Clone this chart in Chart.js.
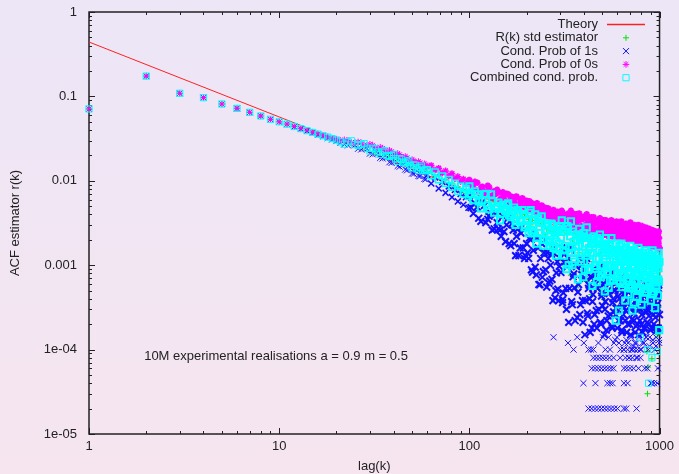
<!DOCTYPE html>
<html>
<head>
<meta charset="utf-8">
<title>ACF estimator</title>
<script src="https://cdn.jsdelivr.net/npm/chart.js@4.4.1/dist/chart.umd.min.js"></script>
<style>
   html, body { margin: 0; padding: 0; }
   body {
      width: 679px;
      height: 474px;
      overflow: hidden;
      background: linear-gradient(to bottom, #ece6f7, #f6e5ef);
   }
</style>
</head>
<body>
<canvas id="acfChart" width="679" height="474"></canvas>
<script>
// ============  data  ============ //

const lags = [
   1, 2, 3, 4, 5, 6, 7, 8, 9, 10, 11, 12, 13, 14, 15, 16, 17, 18, 19, 20,
   22, 24, 26, 28, 30, 32, 34, 36, 38, 40, 42, 44, 46, 48, 50, 52, 54, 56, 58, 60,
   63, 66, 69, 72, 75, 78, 81, 84, 87, 90, 93, 96, 99,
   100, 105, 110, 115, 120, 125, 130, 135, 140, 145, 150, 155, 160, 165, 170, 175, 180, 185, 190, 195,
   200, 205, 210, 215, 220, 225, 230, 235, 240, 245, 250, 255, 260, 265, 270, 275, 280, 285, 290, 295, 300,
   306, 312, 318, 324, 330, 336, 342, 348, 354, 360, 366, 372,
   378, 384, 390, 396, 402, 408, 414, 420, 426, 432, 438, 444,
   450, 456, 462, 468, 474, 480, 486, 492, 498, 504, 510, 516,
   522, 528, 534, 540, 546, 552, 558, 564, 570, 576, 582, 588,
   594, 600, 606, 612, 618, 624, 630, 636, 642, 648, 654, 660,
   666, 672, 678, 684, 690, 696, 702, 708, 714, 720, 726, 732,
   738, 744, 750, 756, 762, 768, 774, 780, 786, 792, 798, 804,
   810, 816, 822, 828, 834, 840, 846, 852, 858, 864, 870, 876,
   882, 888, 894, 900, 906, 912, 918, 924, 930, 936, 942, 948,
   954, 960, 966, 972, 978, 984, 990, 996
];

// the in-between lags (second pass of the estimators)
const lagsB = [
   21, 23, 25, 27, 29, 31, 33, 35, 37, 39, 41, 43, 45, 47, 49, 51, 53, 55, 57, 59,
   102, 107, 112, 117, 122, 127, 132, 137, 142, 147, 152, 157, 162, 167, 172, 177, 182, 187, 192, 197,
   202, 207, 212, 217, 222, 227, 232, 237, 242, 247, 252, 257, 262, 267, 272, 277, 282, 287, 292, 297,
   303, 309, 315, 321, 327, 333, 339, 345, 351, 357, 363, 369,
   375, 381, 387, 393, 399, 405, 411, 417, 423, 429, 435, 441,
   447, 453, 459, 465, 471, 477, 483, 489, 495, 501, 507, 513,
   519, 525, 531, 537, 543, 549, 555, 561, 567, 573, 579, 585,
   591, 597, 603, 609, 615, 621, 627, 633, 639, 645, 651, 657,
   663, 669, 675, 681, 687, 693, 699, 705, 711, 717, 723, 729,
   735, 741, 747, 753, 759, 765, 771, 777, 783, 789, 795, 801,
   807, 813, 819, 825, 831, 837, 843, 849, 855, 861, 867, 873,
   879, 885, 891, 897, 903, 909, 915, 921, 927, 933, 939, 945,
   951, 957, 963, 969, 975, 981, 987, 993, 999
];

// R(k) std estimator
const stdEst = [
   0.071, 0.174, 0.109, 0.0966, 0.0813, 0.0722, 0.0648, 0.0586, 0.0535, 0.050,
   0.0469, 0.0440, 0.0415, 0.0393, 0.0374, 0.0357, 0.0342, 0.0329, 0.0316, 0.0304,
   0.0295, 0.0276, 0.0275, 0.0251, 0.0250, 0.0226, 0.0224, 0.0204, 0.0204, 0.0185,
   0.0187, 0.0170, 0.0170, 0.0155, 0.0157, 0.0144, 0.0147, 0.0135, 0.0138, 0.0127,
   0.0128, 0.0112, 0.0115, 0.0101, 0.0104, 0.0091, 0.0094, 0.0082, 0.0085, 0.0075, 0.0079, 0.0071, 0.0074,
   0.0061, 0.0070, 0.0050, 0.0064, 0.0057, 0.0040, 0.0058, 0.0056, 0.0040, 0.0050, 0.0043, 0.0050,
   0.0038, 0.0045, 0.0032, 0.0043, 0.0037, 0.0026, 0.0040, 0.0038,
   0.0027, 0.0035, 0.0030, 0.0034, 0.0020, 0.0032, 0.0023, 0.0031, 0.0015, 0.0031, 0.0023, 0.0027,
   0.0014, 0.0026, 0.0017, 0.0025, 0.0014, 0.0024, 0.0017, 0.0023, 0.0012,
   0.0017, 0.0026, 0.0010, 0.0024, 0.0012, 0.0026, 0.00076, 0.0020, 0.0016, 0.0024, 0.00054, 0.0021,
   0.0014, 0.0022, 0.00085, 0.0019, 0.0010, 0.0021, 0.00064, 0.0017, 0.0014, 0.0020, 0.00045, 0.0017,
   0.0011, 0.0019, 0.0007, 0.0017, 0.00091, 0.0018, 0.00052, 0.0014, 0.0012, 0.0018, 0.00039, 0.0015,
   0.0010, 0.0018, 0.0006, 0.0014, 0.00078, 0.0016, 0.00048, 0.0013, 0.0010, 0.0015, 0.00033, 0.0013,
   0.00088, 0.0015, 0.00055, 0.0013, 0.00072, 0.0015, 0.0004, 0.0011, 0.0009, 0.0014, 0.0003, 0.0012,
   0.0008, 0.0013, 0.0005, 0.0012, 0.00065, 0.0013, 0.00039, 0.0010, 0.00087, 0.0013, 0.00029, 0.0011,
   0.00076, 0.0012, 0.00047, 0.0011, 0.0006, 0.0012, 0.00037, 0.00096, 0.00082, 0.0012, 0.00027, 0.0010,
   0.00072, 0.0012, 0.00045, 0.0011, 0.00057, 0.0012, 0.00035, 0.00091, 0.000095, 0.00003, 0.000062, 0.00017,
   0.00068, 0.0011, 0.00043, 0.0010, 0.00055, 0.000078, 0.00033, 0.00087, 0.00075, 0.0011, 0.00025, 0.00093,
   0.00065, 0.0010, 0.0004, 0.00096, 0.00015, 0.0011, 0.00032, 0.00084
];

// Cond. Prob of 1s
const cond1 = [
   0.071, 0.174, 0.109, 0.0966, 0.0813, 0.0722, 0.0648, 0.0586, 0.0535, 0.050,
   0.0469, 0.0437, 0.0411, 0.0389, 0.0369, 0.0351, 0.0336, 0.0322, 0.0309, 0.0296,
   0.0270, 0.0283, 0.0240, 0.0253, 0.0210, 0.0226, 0.0187, 0.0200, 0.0166, 0.0181,
   0.0150, 0.0165, 0.0136, 0.0150, 0.0122, 0.0138, 0.0114, 0.0128, 0.0105, 0.0117,
   0.0093, 0.0110, 0.0081, 0.0097, 0.0072, 0.0086, 0.0064, 0.0078, 0.0057, 0.0070, 0.0052, 0.0064, 0.0048,
   0.0066, 0.0041, 0.0049, 0.0033, 0.0051, 0.0035, 0.0041, 0.0027, 0.0032, 0.0026, 0.0038, 0.0019,
   0.0036, 0.0017, 0.0026, 0.0013, 0.0027, 0.0016, 0.0029, 0.0012,
   0.0018, 0.0012, 0.0020, 0.00083, 0.0024, 0.00077, 0.0016, 0.00059, 0.0018, 0.00084, 0.0020, 0.00055,
   0.0012, 0.00065, 0.00135, 0.00038, 0.0016, 0.0005, 0.0011, 0.00038, 0.0012,
   0.0016, 0.00047, 0.0011, 0.0003, 0.0012, 0.00053, 0.0016, 0.00034, 0.00079, 0.00022, 0.00096, 0.00048,
   0.0012, 0.00034, 0.00077, 0.00021, 0.00088, 0.00038, 0.0012, 0.00025, 0.00058, 0.00016, 0.00071, 0.00037,
   0.0009, 0.00026, 0.0006, 0.00018, 0.0007, 0.0003, 0.00096, 0.0002, 0.00047, 0.00014, 0.00059, 0.0003,
   0.00074, 0.00022, 0.0005, 0.00014, 0.0006, 0.00026, 0.00082, 0.00018, 0.0004, 0.00012, 0.0005, 0.00026,
   0.00062, 0.00018, 0.00043, 0.00012, 0.00051, 0.00022, 0.00072, 0.00016, 0.00035, 0.0001, 0.00045, 0.00022,
   0.00058, 0.00016, 0.00039, 0.00012, 0.00048, 0.0002, 0.00067, 0.00014, 0.00032, 0.0001, 0.00042, 0.00022,
   0.00054, 0.00016, 0.00038, 0.00012, 0.00044, 0.0002, 0.00062, 0.00014, 0.00031, 0.0001, 0.0004, 0.0002,
   0.00052, 0.00016, 0.00035, 0.00012, 0.00043, 0.00018, 0.0006, 0.00014, 0.0003, 0.00006, 0.00039, 0.0002,
   0.00048, 0.00014, 0.00034, 0.00004, 0.00041, 0.00018, 0.00058, 0.00012, 0.00029, 0.00004, 0.00037, 0.00018,
   0.00048, 0.00014, 0.00034, 0.00004, 0.00041, 0.00018, 0.00058, 0.00012
];

const cond1B = [
   0.0281, 0.0263, 0.0265, 0.0235, 0.0240, 0.0206, 0.0213, 0.0184, 0.0192, 0.0163,
   0.0173, 0.0147, 0.0157, 0.0133, 0.0141, 0.0121, 0.0131, 0.0113, 0.0122, 0.0104,
   0.0048, 0.0054, 0.0036, 0.0056, 0.0032, 0.0038, 0.0026, 0.0040, 0.0027, 0.0022,
   0.0025, 0.0030, 0.0018, 0.0031, 0.0018, 0.0022, 0.0013, 0.0024, 0.0016, 0.0013,
   0.0014, 0.0021, 0.00088, 0.0015, 0.00095, 0.0021, 0.00059, 0.0012, 0.00072, 0.0014,
   0.00088, 0.0014, 0.00061, 0.0010, 0.00068, 0.0014, 0.00041, 0.00081, 0.00052, 0.00097,
   0.00082, 0.00036, 0.0014, 0.00053, 0.00096, 0.00021, 0.0015, 0.00037, 0.00073, 0.00054, 0.00099, 0.00024,
   0.00059, 0.00026, 0.00099, 0.00038, 0.00068, 0.00015, 0.0011, 0.00027, 0.00053, 0.0004, 0.00074, 0.00018,
   0.00045, 0.0002, 0.00077, 0.00029, 0.00053, 0.00012, 0.00088, 0.00021, 0.00043, 0.00033, 0.00061, 0.00015,
   0.00037, 0.00017, 0.00065, 0.00025, 0.00046, 0.0001, 0.00075, 0.00019, 0.00036, 0.00028, 0.00051, 0.00013,
   0.00031, 0.00014, 0.00056, 0.00022, 0.0004, 0.00008, 0.00066, 0.00017, 0.00033, 0.00026, 0.00046, 0.00012,
   0.00029, 0.00013, 0.00052, 0.0002, 0.00036, 0.00008, 0.00062, 0.00015, 0.00031, 0.00023, 0.00043, 0.00011,
   0.00027, 0.00012, 0.00049, 0.00019, 0.00035, 0.00008, 0.00059, 0.00015, 0.0003, 0.00022, 0.00042, 0.0001,
   0.00026, 0.00012, 0.00045, 0.00018, 0.00033, 0.00006, 0.00055, 0.00014, 0.00028, 0.00021, 0.0004, 0.0001,
   0.00025, 0.00011, 0.00043, 0.00017, 0.00031, 0.00004, 0.00053, 0.00013, 0.00026, 0.0002, 0.00038, 0.0001,
   0.00024, 0.00011, 0.00043, 0.00017, 0.00031, 0.00006, 0.00053, 0.00013, 0.00026
];

// Cond. Prob of 1s: the sparse low counts at large lags
const cond1TailLags = [
   277, 309, 330, 353, 369, 400,
   423, 440, 458, 476, 495, 515, 535, 556, 578, 601, 650, 668, 757,
   398, 460, 532, 550, 566, 650, 679,
   440, 458, 476, 495, 515, 535, 555, 573, 650, 672, 700, 730, 775,
   449, 466, 484, 503, 523, 545, 573, 662, 690, 720, 755, 794,
   423, 436, 449, 519, 623, 650, 680, 710, 740, 766
];
const cond1TailVals = [
   1.4e-4, 3.9e-4, 1.2e-4, 1e-4, 1.4e-4, 1.2e-4,
   2e-5, 2e-5, 2e-5, 2e-5, 2e-5, 2e-5, 2e-5, 2e-5, 2e-5, 2e-5, 2e-5, 2e-5, 2e-5,
   4e-5, 4e-5, 4e-5, 4e-5, 4e-5, 4e-5, 4e-5,
   6e-5, 6e-5, 6e-5, 6e-5, 6e-5, 6e-5, 6e-5, 6e-5, 6e-5, 6e-5, 6e-5, 6e-5, 6e-5,
   8e-5, 8e-5, 8e-5, 8e-5, 8e-5, 8e-5, 8e-5, 8e-5, 8e-5, 8e-5, 8e-5, 8e-5,
   1e-4, 1e-4, 1e-4, 1e-4, 1e-4, 1e-4, 1e-4, 1e-4, 1e-4, 1e-4
];

// Cond. Prob of 0s
const cond0 = [
   0.071, 0.174, 0.109, 0.0966, 0.0813, 0.0722, 0.0648, 0.0586, 0.0535, 0.050,
   0.047, 0.0442, 0.0418, 0.0396, 0.0377, 0.0360, 0.0345, 0.0332, 0.0320, 0.0311,
   0.0306, 0.0284, 0.0289, 0.0266, 0.0271, 0.0248, 0.0250, 0.0228, 0.0230, 0.0207,
   0.0211, 0.0190, 0.0194, 0.0176, 0.0178, 0.0163, 0.0169, 0.0154, 0.0159, 0.0146,
   0.0152, 0.0134, 0.0141, 0.0124, 0.0131, 0.0114, 0.0122, 0.0106, 0.0112, 0.0098, 0.0105, 0.0092, 0.0099,
   0.0102, 0.0083, 0.0095, 0.0082, 0.0072, 0.0087, 0.0066, 0.0075, 0.0078, 0.0060, 0.0073, 0.0057,
   0.0069, 0.0065, 0.0054, 0.0064, 0.0051, 0.0060, 0.0062, 0.0049,
   0.0058, 0.0046, 0.0055, 0.0053, 0.0043, 0.0053, 0.0041, 0.0050, 0.0051, 0.0039, 0.0048, 0.0038,
   0.0047, 0.0044, 0.0035, 0.0044, 0.0034, 0.0042, 0.0043, 0.0033, 0.0042,
   0.0044, 0.0031, 0.0039, 0.0029, 0.0040, 0.0034, 0.0044, 0.0028, 0.0035, 0.0032, 0.0040, 0.0028,
   0.0041, 0.0028, 0.0035, 0.0026, 0.0037, 0.0030, 0.0040, 0.0025, 0.0031, 0.0028, 0.0037, 0.0025,
   0.0037, 0.0026, 0.0032, 0.0023, 0.0033, 0.0028, 0.0036, 0.0023, 0.0029, 0.0026, 0.0034, 0.0023,
   0.0034, 0.0024, 0.0029, 0.0022, 0.0032, 0.0027, 0.0034, 0.0022, 0.0027, 0.0024, 0.0031, 0.0022,
   0.0033, 0.0023, 0.0028, 0.0021, 0.0030, 0.0025, 0.0033, 0.0021, 0.0026, 0.0023, 0.0030, 0.0021,
   0.0031, 0.0021, 0.0026, 0.0020, 0.0029, 0.0024, 0.0032, 0.0020, 0.0025, 0.0022, 0.0029, 0.0020,
   0.0030, 0.0020, 0.0025, 0.0019, 0.0028, 0.0023, 0.0030, 0.0018, 0.0023, 0.0021, 0.0028, 0.0019,
   0.0029, 0.0020, 0.0024, 0.0018, 0.0025, 0.0021, 0.0028, 0.0018, 0.0022, 0.0020, 0.0026, 0.0018,
   0.0027, 0.0018, 0.0022, 0.0016, 0.0024, 0.0020, 0.0026, 0.0017, 0.0021, 0.0019, 0.0025, 0.0017,
   0.0025, 0.0017, 0.0021, 0.0016, 0.0023, 0.0019, 0.0025, 0.0016
];

const cond0B = [
   0.0300, 0.0301, 0.0279, 0.0282, 0.0262, 0.0264, 0.0243, 0.0243, 0.0223, 0.0222,
   0.0204, 0.0204, 0.0188, 0.0188, 0.0172, 0.0173, 0.0161, 0.0164, 0.0152, 0.0155,
   0.0092, 0.0097, 0.0076, 0.0085, 0.0074, 0.0084, 0.0063, 0.0070, 0.0073, 0.0062,
   0.0065, 0.0070, 0.0056, 0.0064, 0.0056, 0.0065, 0.0050, 0.0056, 0.0059, 0.0050,
   0.0053, 0.0057, 0.0046, 0.0053, 0.0047, 0.0054, 0.0041, 0.0046, 0.0049, 0.0040,
   0.0043, 0.0047, 0.0038, 0.0043, 0.0038, 0.0045, 0.0034, 0.0039, 0.0041, 0.0035,
   0.0037, 0.0042, 0.0033, 0.0039, 0.0030, 0.0041, 0.0032, 0.0037, 0.0028, 0.0040, 0.0031, 0.0037,
   0.0034, 0.0038, 0.0029, 0.0036, 0.0027, 0.0038, 0.0029, 0.0034, 0.0025, 0.0036, 0.0028, 0.0033,
   0.0030, 0.0034, 0.0026, 0.0032, 0.0024, 0.0034, 0.0027, 0.0030, 0.0023, 0.0033, 0.0026, 0.0031,
   0.0028, 0.0032, 0.0025, 0.0030, 0.0023, 0.0033, 0.0026, 0.0029, 0.0022, 0.0031, 0.0024, 0.0030,
   0.0027, 0.0030, 0.0024, 0.0029, 0.0022, 0.0032, 0.0024, 0.0027, 0.0021, 0.0030, 0.0023, 0.0029,
   0.0026, 0.0029, 0.0022, 0.0027, 0.0021, 0.0030, 0.0023, 0.0026, 0.0020, 0.0029, 0.0022, 0.0026,
   0.0024, 0.0028, 0.0021, 0.0026, 0.0020, 0.0028, 0.0022, 0.0025, 0.0018, 0.0027, 0.0021, 0.0025,
   0.0023, 0.0026, 0.0020, 0.0025, 0.0019, 0.0027, 0.0020, 0.0023, 0.0018, 0.0026, 0.0020, 0.0024,
   0.0022, 0.0025, 0.0019, 0.0023, 0.0017, 0.0026, 0.0019, 0.0022, 0.0017, 0.0025, 0.0019, 0.0023,
   0.0020, 0.0023, 0.0018, 0.0022, 0.0016, 0.0024, 0.0018, 0.0021, 0.0016
];

// Combined cond. prob.
const combined = [
   0.071, 0.174, 0.109, 0.0966, 0.0813, 0.0722, 0.0648, 0.0586, 0.0535, 0.050,
   0.0469, 0.0440, 0.0415, 0.0393, 0.0374, 0.0357, 0.0342, 0.0329, 0.0316, 0.0304,
   0.0272, 0.0298, 0.0262, 0.0276, 0.0226, 0.0239, 0.0205, 0.0227, 0.0194, 0.0206,
   0.0170, 0.0180, 0.0162, 0.0173, 0.0142, 0.0153, 0.0134, 0.0150, 0.0131, 0.0135,
   0.0115, 0.0127, 0.0103, 0.0114, 0.0093, 0.0103, 0.0084, 0.0093, 0.0075, 0.0086, 0.0070, 0.0081, 0.0066,
   0.0086, 0.0059, 0.0069, 0.0047, 0.0069, 0.0051, 0.0069, 0.0042, 0.0050, 0.0034, 0.0052, 0.0044,
   0.0054, 0.0037, 0.0044, 0.0030, 0.0045, 0.0033, 0.0045, 0.0028,
   0.0034, 0.0024, 0.0045, 0.0024, 0.0034, 0.0018, 0.0036, 0.0024, 0.0038, 0.0017, 0.0026, 0.0020,
   0.0029, 0.0017, 0.0031, 0.0017, 0.0024, 0.0013, 0.0026, 0.0018, 0.0029,
   0.0034, 0.0015, 0.0025, 0.0009, 0.0027, 0.0016, 0.0033, 0.0010, 0.0019, 0.0014, 0.0023, 0.00068,
   0.0027, 0.0012, 0.0021, 0.00072, 0.0022, 0.0014, 0.0028, 0.00088, 0.0016, 0.0011, 0.0020, 0.00057,
   0.0022, 0.00098, 0.0018, 0.00063, 0.0020, 0.0012, 0.0023, 0.00072, 0.0014, 0.00098, 0.0017, 0.00049,
   0.0021, 0.00084, 0.0015, 0.00054, 0.0017, 0.0010, 0.0021, 0.00066, 0.0012, 0.00083, 0.0014, 0.00022,
   0.0018, 0.00077, 0.0014, 0.00029, 0.0015, 0.00094, 0.0018, 0.00055, 0.0011, 0.00075, 0.0013, 0.00038,
   0.0016, 0.0007, 0.0013, 0.00045, 0.0014, 0.00083, 0.0017, 0.00053, 0.0010, 0.00029, 0.0012, 0.00036,
   0.0015, 0.00066, 0.0012, 0.00042, 0.0013, 0.00078, 0.0016, 0.0005, 0.00096, 0.00014, 0.0012, 0.00034,
   0.0014, 0.00063, 0.0011, 0.0004, 0.0012, 0.00075, 0.0015, 0.00048, 0.00091, 0.0001, 0.0011, 0.00004,
   0.0014, 0.0006, 0.0011, 0.00038, 0.0012, 0.00008, 0.0015, 0.00046, 0.00087, 0.00062, 0.0011, 0.00031,
   0.0013, 0.00057, 0.0010, 0.000095, 0.0011, 0.00068, 0.0014, 0.00017
];

const combinedB = [
   0.0290, 0.0291, 0.0268, 0.0268, 0.0243, 0.0243, 0.0220, 0.0219, 0.0199, 0.0199,
   0.0182, 0.0183, 0.0166, 0.0167, 0.0152, 0.0154, 0.0142, 0.0144, 0.0133, 0.0136,
   0.0070, 0.0075, 0.0057, 0.0059, 0.0070, 0.0046, 0.0057, 0.0047, 0.0055, 0.0041,
   0.0047, 0.0052, 0.0039, 0.0041, 0.0048, 0.0033, 0.0040, 0.0034, 0.0040, 0.0030,
   0.0034, 0.0042, 0.0026, 0.0029, 0.0040, 0.0021, 0.0032, 0.0024, 0.0032, 0.0020,
   0.0026, 0.0031, 0.0019, 0.0022, 0.0030, 0.0016, 0.0024, 0.0019, 0.0025, 0.0016,
   0.0021, 0.0027, 0.0013, 0.0017, 0.0029, 0.0010, 0.0022, 0.0014, 0.0025, 0.0011, 0.0017, 0.0020,
   0.0017, 0.0022, 0.0011, 0.0014, 0.0024, 0.00088, 0.0018, 0.0013, 0.0021, 0.0009, 0.0014, 0.0018,
   0.0014, 0.0018, 0.00091, 0.0012, 0.0021, 0.00077, 0.0015, 0.0010, 0.0018, 0.00078, 0.0012, 0.0016,
   0.0013, 0.0016, 0.00078, 0.0010, 0.0018, 0.00066, 0.0014, 0.00096, 0.0015, 0.00066, 0.0010, 0.0013,
   0.0011, 0.0014, 0.00072, 0.00094, 0.0017, 0.00061, 0.0012, 0.0008, 0.0014, 0.0006, 0.00095, 0.0012,
   0.0010, 0.0013, 0.00065, 0.00085, 0.0015, 0.00055, 0.0011, 0.00078, 0.0014, 0.00058, 0.00092, 0.0012,
   0.00095, 0.0012, 0.00062, 0.00081, 0.0014, 0.00051, 0.0011, 0.00074, 0.0013, 0.00054, 0.00086, 0.0011,
   0.0009, 0.0012, 0.00059, 0.00077, 0.0013, 0.00048, 0.00099, 0.0007, 0.0012, 0.00052, 0.00082, 0.0010,
   0.00085, 0.0011, 0.00055, 0.00072, 0.0013, 0.00046, 0.00097, 0.00067, 0.0011, 0.00049, 0.00078, 0.00098,
   0.00081, 0.0011, 0.00053, 0.00068, 0.0012, 0.00044, 0.00092, 0.00064, 0.0011
];

// theory line
const theoryLags = [1, 10, 100, 1000];
const theoryVals = [0.441, 0.0571, 0.0074, 0.00095];

// axes
const xTickVals = [1, 10, 100, 1000];
const xTickLabels = ['1', '10', '100', '1000'];
const yTickVals = [1e-5, 1e-4, 1e-3, 1e-2, 1e-1, 1];
const yTickLabels = ['1e-05', '1e-04', '0.001', '0.01', '0.1', '1'];

const note = '10M experimental realisations a = 0.9 m = 0.5';


// ============  helpers  ============ //

function toPoints(xs, ys) {
   return xs.map((k, i) => ({ x: k, y: ys[i] }));
}

// the crowded right half reads as solid colour in the original,
// the few stray low counts stay thin
function markerWidth(c) {
   if (!c.raw || c.raw.y < 1.5e-4) return 1;
   if (c.raw.x >= 100) return 2;
   if (c.raw.x >= 60) return 1.5;
   return 1;
}

function onesRadius(c) {
   if (!c.raw || c.raw.y < 1.5e-4) return 4.3;
   return c.raw.x >= 100 ? 4.8 : 4.3;
}

const textColor = '#222';
const fontFamily = "'Liberation Sans', Arial, sans-serif";
const colTheory = '#ff2020';
const colStd = '#00e400';
const colOnes = '#1010ff';
const colZeros = '#ff00ff';
const colComb = '#00ffff';

Chart.defaults.font.family = fontFamily;
Chart.defaults.font.size = 13;
Chart.defaults.color = textColor;

// small marker drawer for the key (same shapes as chart.js pointStyle)
function drawMarker(ctx, style, r, x, y) {
   const d = r * Math.SQRT1_2;
   ctx.beginPath();
   if (style === 'cross' || style === 'star') {
      ctx.moveTo(x - r, y); ctx.lineTo(x + r, y);
      ctx.moveTo(x, y - r); ctx.lineTo(x, y + r);
   }
   if (style === 'crossRot' || style === 'star') {
      ctx.moveTo(x - d, y - d); ctx.lineTo(x + d, y + d);
      ctx.moveTo(x - d, y + d); ctx.lineTo(x + d, y - d);
   }
   if (style === 'rect') {
      ctx.rect(x - d, y - d, 2 * d, 2 * d);
   }
   ctx.stroke();
}


// ============  plugins  ============ //

// gnuplot style frame with inward ticks on all four sides
const framePlugin = {
   id: 'frame',
   beforeDatasetsDraw(chart) {
      const { ctx, chartArea: a, scales } = chart;
      const xs = scales.x, ys = scales.y;
      ctx.save();
      ctx.strokeStyle = textColor;
      ctx.lineWidth = 1;
      ctx.beginPath();
      for (let e = 0; e <= 3; e++) {
         for (let m = 1; m <= 9; m++) {
            if (e === 3 && m > 1) break;
            const px = Math.round(xs.getPixelForValue(m * Math.pow(10, e))) + 0.5;
            const len = m === 1 ? 6 : 3;
            ctx.moveTo(px, a.bottom); ctx.lineTo(px, a.bottom - len);
            ctx.moveTo(px, a.top); ctx.lineTo(px, a.top + len);
         }
      }
      for (let e = -5; e <= 0; e++) {
         for (let m = 1; m <= 9; m++) {
            if (e === 0 && m > 1) break;
            const py = Math.round(ys.getPixelForValue(m * Math.pow(10, e))) + 0.5;
            const len = m === 1 ? 6 : 3;
            ctx.moveTo(a.left, py); ctx.lineTo(a.left + len, py);
            ctx.moveTo(a.right, py); ctx.lineTo(a.right - len, py);
         }
      }
      ctx.stroke();
      ctx.lineWidth = 1.5;
      ctx.strokeRect(a.left, a.top, a.right - a.left, a.bottom - a.top);
      ctx.restore();
   }
};

// key (text right, sample left of it) and the label inside the plot
const keyPlugin = {
   id: 'gnuKey',
   afterDatasetsDraw(chart) {
      const { ctx, scales } = chart;
      ctx.save();
      ctx.font = '13px ' + fontFamily;
      ctx.textBaseline = 'middle';
      chart.data.datasets.forEach((ds, i) => {
         const y = 24.5 + i * 13.3;
         ctx.textAlign = 'right';
         ctx.fillStyle = textColor;
         ctx.fillText(ds.label, 598, y);
         ctx.strokeStyle = ds.keyColor;
         ctx.lineWidth = 1;
         if (ds.showLine) {
            ctx.lineWidth = 1.3;
            ctx.beginPath();
            ctx.moveTo(607, y);
            ctx.lineTo(645, y);
            ctx.stroke();
         } else {
            drawMarker(ctx, ds.pointStyle, ds.keyRadius, 626, y);
         }
      });
      ctx.textAlign = 'left';
      ctx.fillStyle = textColor;
      ctx.fillText(note, scales.x.getPixelForValue(1.95), scales.y.getPixelForValue(8.4e-5));
      ctx.restore();
   }
};


// ============  chart  ============ //

const ctx = document.getElementById('acfChart').getContext('2d');
const acfChart = new Chart(ctx, {
   type: 'scatter',
   data: {
      datasets: [{
         label: 'Theory',
         keyColor: colTheory,
         data: toPoints(theoryLags, theoryVals),
         showLine: true,
         borderColor: colTheory,
         borderWidth: 1,
         pointRadius: 0,
         order: 4,
      }, {
         label: 'R(k) std estimator',
         keyColor: colStd,
         keyRadius: 3,
         data: toPoints(lags, stdEst),
         pointStyle: 'cross',
         pointRadius: 3,
         borderColor: colStd,
         backgroundColor: 'rgba(0,0,0,0)',
         pointBorderWidth: 1,
         order: 3,
      }, {
         label: 'Cond. Prob of 1s',
         keyColor: colOnes,
         keyRadius: 4.3,
         data: toPoints(lags, cond1)
            .concat(toPoints(lagsB, cond1B))
            .concat(toPoints(cond1TailLags, cond1TailVals)),
         pointStyle: 'crossRot',
         pointRadius: onesRadius,
         borderColor: colOnes,
         backgroundColor: 'rgba(0,0,0,0)',
         pointBorderWidth: markerWidth,
         order: 2,
      }, {
         label: 'Cond. Prob of 0s',
         keyColor: colZeros,
         keyRadius: 3.3,
         data: toPoints(lags, cond0).concat(toPoints(lagsB, cond0B)),
         pointStyle: 'star',
         pointRadius: 3.3,
         borderColor: colZeros,
         backgroundColor: 'rgba(0,0,0,0)',
         pointBorderWidth: markerWidth,
         order: 1,
      }, {
         label: 'Combined cond. prob.',
         keyColor: colComb,
         keyRadius: 4.4,
         data: toPoints(lags, combined).concat(toPoints(lagsB, combinedB)),
         pointStyle: 'rect',
         pointRadius: 4.4,
         borderColor: colComb,
         backgroundColor: 'rgba(0,0,0,0)',
         pointBorderWidth: markerWidth,
         order: 0,
      }],
   },
   options: {
      responsive: false,
      animation: false,
      clip: false,
      layout: {
         padding: { left: 0, right: 19, top: 12, bottom: 0 },
      },
      scales: {
         x: {
            type: 'logarithmic',
            position: 'bottom',
            min: 1,
            max: 1000,
            grid: { display: false, drawTicks: false },
            border: { display: false },
            afterBuildTicks: (scale) => {
               scale.ticks = xTickVals.map(v => ({ value: v }));
            },
            afterFit: (scale) => { scale.height = 40; },
            ticks: {
               autoSkip: false,
               maxRotation: 0,
               padding: 5,
               color: textColor,
               callback: (v) => xTickLabels[xTickVals.indexOf(v)],
            },
            title: {
               display: true,
               text: 'lag(k)',
               color: textColor,
               padding: { top: 1, bottom: 0 },
            },
         },
         y: {
            type: 'logarithmic',
            position: 'left',
            min: 1e-5,
            max: 1,
            grid: { display: false, drawTicks: false },
            border: { display: false },
            afterBuildTicks: (scale) => {
               scale.ticks = yTickVals.map(v => ({ value: v }));
            },
            afterFit: (scale) => {
               scale.width = 89;
               scale.paddingTop = 0;
               scale.paddingBottom = 0;
            },
            ticks: {
               autoSkip: false,
               padding: 12,
               color: textColor,
               callback: (v) => {
                  const i = yTickVals.findIndex(t => Math.abs(Math.log10(t) - Math.log10(v)) < 1e-6);
                  return i >= 0 ? yTickLabels[i] : '';
               },
            },
            title: {
               display: true,
               text: 'ACF estimator r(k)',
               color: textColor,
               padding: { top: 8, bottom: 0 },
            },
         },
      },
      plugins: {
         legend: { display: false },
         tooltip: { enabled: false },
      },
   },
   plugins: [framePlugin, keyPlugin],
});
</script>
</body>
</html>
